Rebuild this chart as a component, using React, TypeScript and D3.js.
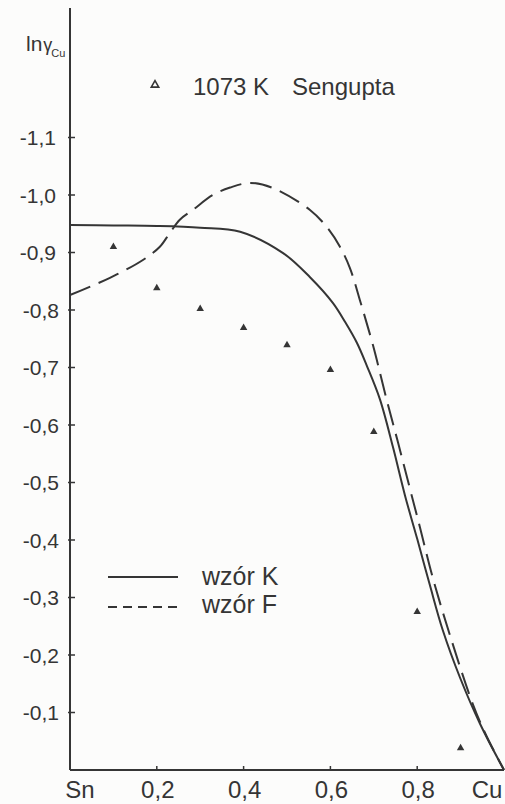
import React, { useEffect, useRef } from "react";
import * as d3 from "d3";

// x = mole fraction Cu (Sn = 0, Cu = 1)
const kX = [0, 0.1, 0.2, 0.3, 0.392, 0.491, 0.553, 0.606, 0.634, 0.661, 0.684, 0.714, 0.744, 0.772, 0.8, 0.829, 0.859, 0.899, 0.945, 1];
const kY = [-0.948, -0.947, -0.946, -0.943, -0.936, -0.899, -0.857, -0.812, -0.779, -0.743, -0.703, -0.645, -0.562, -0.477, -0.402, -0.322, -0.243, -0.16, -0.08, 0];

const fX = [0, 0.092, 0.168, 0.207, 0.23, 0.253, 0.283, 0.329, 0.369, 0.415, 0.468, 0.553, 0.592, 0.622, 0.645, 0.668, 0.698, 0.73, 0.756, 0.783, 0.806, 0.836, 0.876, 0.929, 0.961, 1];
const fY = [-0.826, -0.856, -0.887, -0.91, -0.934, -0.957, -0.974, -1.0, -1.013, -1.021, -1.012, -0.974, -0.944, -0.91, -0.873, -0.817, -0.739, -0.643, -0.569, -0.49, -0.423, -0.334, -0.233, -0.113, -0.057, 0];

const senguptaX = [0.1, 0.2, 0.3, 0.4, 0.5, 0.6, 0.7, 0.8, 0.9];
const senguptaY = [-0.91, -0.838, -0.802, -0.769, -0.739, -0.696, -0.588, -0.275, -0.038];

const yTicks = [-1.1, -1.0, -0.9, -0.8, -0.7, -0.6, -0.5, -0.4, -0.3, -0.2, -0.1];
const yTickLabels = ["-1,1", "-1,0", "-0,9", "-0,8", "-0,7", "-0,6", "-0,5", "-0,4", "-0,3", "-0,2", "-0,1"];
const xTicks = [0, 0.2, 0.4, 0.6, 0.8, 1];
const xTickLabels = ["Sn", "0,2", "0,4", "0,6", "0,8", "Cu"];

const INK = "#353535";
const FONT = "'Liberation Sans', Arial, sans-serif";

const App: React.FC = () => {
  const svgRef = useRef<SVGSVGElement>(null);

  useEffect(() => {
    if (!svgRef.current) return;
    const svg = d3.select(svgRef.current);
    svg.selectAll("*").remove();

    const width = 505;
    const height = 804;
    const margin = { top: 8, right: 1, bottom: 34, left: 70 };

    const x = d3.scaleLinear().domain([0, 1]).range([margin.left, width - margin.right]);
    const y = d3.scaleLinear().domain([0, -1.1]).range([height - margin.bottom, 137.5]);

    svg.append("rect").attr("width", width).attr("height", height).attr("fill", "#fcfcfb");

    // axes
    svg.append("line")
      .attr("x1", x(0)).attr("x2", x(0))
      .attr("y1", margin.top).attr("y2", y(0))
      .attr("stroke", INK).attr("stroke-width", 2);
    svg.append("line")
      .attr("x1", x(0)).attr("x2", x(1))
      .attr("y1", y(0)).attr("y2", y(0))
      .attr("stroke", INK).attr("stroke-width", 2);

    const yt = svg.append("g");
    yTicks.forEach((t, i) => {
      yt.append("line")
        .attr("x1", x(0) - 2).attr("x2", x(0) + 5)
        .attr("y1", y(t)).attr("y2", y(t))
        .attr("stroke", INK).attr("stroke-width", 1.5);
      yt.append("text")
        .attr("x", 56 + (i > 2 ? 3 : 0))
        .attr("y", y(t))
        .attr("dy", "0.36em")
        .attr("text-anchor", "end")
        .attr("font-family", FONT)
        .attr("font-size", 21)
        .attr("fill", INK)
        .text(yTickLabels[i]);
    });

    const xt = svg.append("g");
    xTicks.forEach((t, i) => {
      if (i > 0 && i < xTicks.length - 1) {
        xt.append("line")
          .attr("x1", x(t)).attr("x2", x(t))
          .attr("y1", y(0)).attr("y2", y(0) - 4)
          .attr("stroke", INK).attr("stroke-width", 1.5);
      }
      const shift = i === 0 ? 10 : i === xTicks.length - 1 ? -17 : 1;
      xt.append("text")
        .attr("x", x(t) + shift)
        .attr("y", 798)
        .attr("text-anchor", "middle")
        .attr("font-family", FONT)
        .attr("font-size", 24)
        .attr("fill", INK)
        .text(xTickLabels[i]);
    });

    // axis title ln γ_Cu
    const title = svg.append("text")
      .attr("x", 26).attr("y", 51)
      .attr("font-family", FONT)
      .attr("fill", INK);
    title.append("tspan").attr("font-size", 21).text("ln");
    title.append("tspan").attr("font-size", 18).attr("dx", 1).text("γ");
    title.append("tspan").attr("font-size", 11).attr("dx", -1).attr("dy", 6).text("Cu");

    const kData = kX.map((v, i) => [v, kY[i]] as [number, number]);
    const fData = fX.map((v, i) => [v, fY[i]] as [number, number]);

    const line = d3.line<[number, number]>()
      .x((d) => x(d[0]))
      .y((d) => y(d[1]))
      .curve(d3.curveCatmullRom.alpha(0.5));

    svg.append("path")
      .datum(kData)
      .attr("fill", "none")
      .attr("stroke", INK)
      .attr("stroke-width", 2)
      .attr("d", line);

    svg.append("path")
      .datum(fData)
      .attr("fill", "none")
      .attr("stroke", INK)
      .attr("stroke-width", 2)
      .attr("stroke-dasharray", "22 9")
      .attr("d", line);

    const tri = d3.symbol().type(d3.symbolTriangle).size(24);
    svg.append("g")
      .selectAll("path")
      .data(senguptaX)
      .join("path")
      .attr("transform", (d, i) => `translate(${x(d)},${y(senguptaY[i])})`)
      .attr("d", tri() as string)
      .attr("fill", INK);

    // legend top
    svg.append("path")
      .attr("transform", "translate(155,85)")
      .attr("d", d3.symbol().type(d3.symbolTriangle).size(24)() as string)
      .attr("fill", "none")
      .attr("stroke", INK)
      .attr("stroke-width", 1.6);
    svg.append("text")
      .attr("x", 193).attr("y", 95)
      .attr("font-family", FONT)
      .attr("font-size", 24)
      .attr("fill", INK)
      .text("1073 K");
    svg.append("text")
      .attr("x", 292).attr("y", 95)
      .attr("font-family", FONT)
      .attr("font-size", 24)
      .attr("fill", INK)
      .text("Sengupta");

    // legend bottom
    svg.append("line")
      .attr("x1", 108).attr("x2", 178).attr("y1", 577).attr("y2", 577)
      .attr("stroke", INK).attr("stroke-width", 2);
    svg.append("line")
      .attr("x1", 108).attr("x2", 178).attr("y1", 607).attr("y2", 607)
      .attr("stroke", INK).attr("stroke-width", 2)
      .attr("stroke-dasharray", "9 6");
    svg.append("text")
      .attr("x", 202).attr("y", 585)
      .attr("font-family", FONT).attr("font-size", 25).attr("fill", INK)
      .text("wzór K");
    svg.append("text")
      .attr("x", 202).attr("y", 613)
      .attr("font-family", FONT).attr("font-size", 25).attr("fill", INK)
      .text("wzór F");
  }, []);

  return (
    <svg
      ref={svgRef}
      width={505}
      height={804}
      style={{ position: "absolute", left: 0, top: 0, display: "block" }}
    />
  );
};

export default App;
